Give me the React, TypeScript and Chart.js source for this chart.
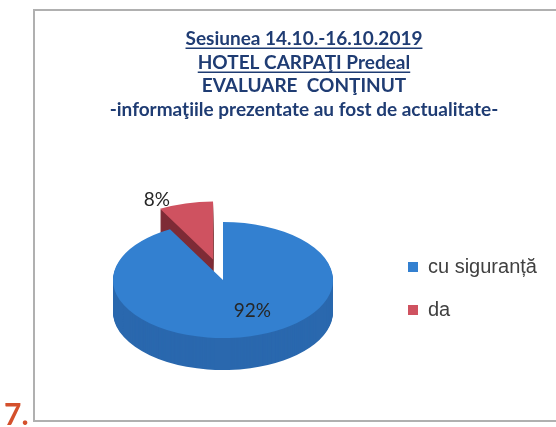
import React, { useEffect, useRef } from 'react';
import { Chart, registerables } from 'chart.js';

Chart.register(...registerables);

// ---------- data ----------
const CATEGORIES = ['cu siguranță', 'da'];
const VALUES = [92, 8];
const TITLE_LINES = [
  'Sesiunea 14.10.-16.10.2019',
  'HOTEL CARPAŢI Predeal',
  'EVALUARE  CONŢINUT',
  '-informaţiile prezentate au fost de actualitate-',
];
const UNDERLINED_LINES = [0, 1];
const FIGURE_NUMBER = '7.';

// ---------- style ----------
const W = 556;
const H = 427;
const TOP_COLORS = ['#3380D0', '#CF5260'];
const SIDE_COLORS = ['#2A68AE', '#7E2B36'];
const EXPLODE = [0, 40];
const TILT = 58 / 110;
const DEPTH = 32;
const SHIFT = -8.5;
const RADIUS = 110;
const LABEL_ANGLE_BIAS = (-12 * Math.PI) / 180;
const TITLE_COLOR = '#1F3C73';
const TITLE_SIZE = 19;
const TITLE_LH = 23.5;
const TITLE_PAD_TOP = 27.25;
const TITLE_PAD_BOTTOM = 28.75;
const LEGEND_FAMILY = '"Liberation Sans", Arial, sans-serif';
const LEGEND_SIZE = 20;
const LEGEND_PAD = 23;
const LEGEND_BOX = 10;
const LEGEND_LEFT = 385;
const PAD_LEFT = 61;

const pie3d = {
  id: 'pie3d',
  beforeDraw(chart: any) {
    const ctx = chart.ctx;
    ctx.save();
    ctx.fillStyle = '#ffffff';
    ctx.fillRect(0, 0, W, H);
    ctx.strokeStyle = '#b0b0b0';
    ctx.lineWidth = 2;
    ctx.strokeRect(34, 10, 540, 411);
    ctx.restore();
  },
  beforeDatasetsDraw(chart: any) {
    const meta = chart.getDatasetMeta(0);
    const arcs = meta.data;
    if (!arcs.length) return;
    const ctx = chart.ctx;
    const cx = arcs[0].x;
    const cy = arcs[0].y;
    ctx.save();
    ctx.translate(cx, cy + SHIFT);
    ctx.scale(1, TILT);
    ctx.translate(-cx, -cy);
    const paint = (arc: any, i: number, color: string | null, dy: number) => {
      const mid = (arc.startAngle + arc.endAngle) / 2;
      ctx.save();
      ctx.translate(Math.cos(mid) * EXPLODE[i], Math.sin(mid) * EXPLODE[i] + dy);
      const saved = arc.options;
      if (color) arc.options = { ...saved, backgroundColor: color, borderColor: color };
      arc.draw(ctx);
      arc.options = saved;
      ctx.restore();
    };
    for (let d = DEPTH; d > 0; d -= 1) {
      arcs.forEach((a: any, i: number) => paint(a, i, SIDE_COLORS[i], d / TILT));
    }
    arcs.forEach((a: any, i: number) => paint(a, i, null, 0));
    ctx.restore();
    return false;
  },
  afterDraw(chart: any) {
    const ctx = chart.ctx;
    const meta = chart.getDatasetMeta(0);
    const arcs = meta.data;
    const total = VALUES.reduce((s, v) => s + v, 0);
    ctx.save();
    if (arcs.length) {
      const cy = arcs[0].y;
      const mapY = (y: number) => cy + SHIFT + (y - cy) * TILT;
      ctx.font = '19px Lato';
      ctx.fillStyle = '#262626';
      ctx.textAlign = 'center';
      ctx.textBaseline = 'middle';
      arcs.forEach((arc: any, i: number) => {
        const share = VALUES[i] / total;
        const mid = (arc.startAngle + arc.endAngle) / 2;
        const a = mid + LABEL_ANGLE_BIAS;
        const r = arc.outerRadius * (share < 0.15 ? 1.15 : 0.6);
        const ex = Math.cos(mid) * EXPLODE[i];
        const ey = Math.sin(mid) * EXPLODE[i];
        const x = arc.x + ex + Math.cos(a) * r;
        const y = mapY(arc.y + ey + Math.sin(a) * r);
        ctx.fillText(Math.round(share * 100) + '%', x, y);
      });
    }
    // underline title lines
    const tb = chart.titleBlock;
    if (tb) {
      ctx.font = `bold ${TITLE_SIZE}px Lato`;
      ctx.strokeStyle = TITLE_COLOR;
      ctx.lineWidth = 1.5;
      const xc = (tb.left + tb.right) / 2;
      UNDERLINED_LINES.forEach((li) => {
        const w = ctx.measureText(TITLE_LINES[li]).width;
        const my = tb.top + TITLE_PAD_TOP + TITLE_LH / 2 + li * TITLE_LH;
        const uy = Math.round(my + 9) + 0.25;
        ctx.beginPath();
        ctx.moveTo(xc - w / 2, uy);
        ctx.lineTo(xc + w / 2, uy);
        ctx.stroke();
      });
    }
    // figure number
    ctx.font = 'bold 30px Lato';
    ctx.fillStyle = '#D4502C';
    ctx.textAlign = 'left';
    ctx.textBaseline = 'alphabetic';
    ctx.fillText(FIGURE_NUMBER, 4, 425);
    ctx.restore();
  },
};

export default function App() {
  const ref = useRef<HTMLCanvasElement>(null);
  useEffect(() => {
    const canvas = ref.current;
    if (!canvas) return;
    const mctx = canvas.getContext('2d')!;
    mctx.font = `${LEGEND_SIZE}px ${LEGEND_FAMILY}`;
    const textW = Math.max(...CATEGORIES.map((c) => mctx.measureText(c).width));
    const legendW = LEGEND_PAD + LEGEND_BOX + LEGEND_SIZE / 2 + textW + 10;
    const padRight = Math.max(0, W - LEGEND_LEFT - legendW);

    const chart = new Chart(canvas, {
      type: 'pie',
      data: {
        labels: CATEGORIES,
        datasets: [
          {
            data: VALUES,
            backgroundColor: TOP_COLORS,
            borderWidth: 0,
            hoverOffset: 0,
            clip: false,
          } as any,
        ],
      },
      options: {
        responsive: false,
        animation: false,
        devicePixelRatio: 1,
        events: [],
        radius: RADIUS,
        layout: { padding: { left: PAD_LEFT, right: padRight, top: 0, bottom: 0 } },
        plugins: {
          title: {
            display: true,
            text: TITLE_LINES,
            color: TITLE_COLOR,
            font: { family: 'Lato', size: TITLE_SIZE, weight: 'bold', lineHeight: TITLE_LH / TITLE_SIZE },
            padding: { top: TITLE_PAD_TOP, bottom: TITLE_PAD_BOTTOM },
          },
          legend: {
            position: 'right',
            fullSize: false,
            align: 'center',
            labels: {
              boxWidth: LEGEND_BOX,
              boxHeight: LEGEND_BOX,
              padding: LEGEND_PAD,
              color: '#404040',
              font: { family: LEGEND_FAMILY, size: LEGEND_SIZE },
            },
          },
          tooltip: { enabled: false },
        },
      } as any,
      plugins: [pie3d],
    });
    return () => chart.destroy();
  }, []);
  return (
    <div style={{ position: 'absolute', left: 0, top: 0, width: W, height: H, background: '#fff' }}>
      <canvas ref={ref} width={W} height={H} style={{ display: 'block' }} />
    </div>
  );
}
